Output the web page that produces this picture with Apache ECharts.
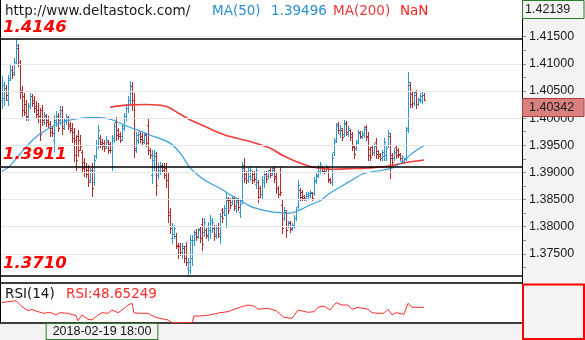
<!DOCTYPE html>
<html>
<head>
<meta charset="utf-8">
<script src="https://cdn.jsdelivr.net/npm/echarts@6/dist/echarts.min.js"></script>
<style>
  html, body { margin: 0; padding: 0; background: #fff; }
  #chart { width: 585px; height: 340px; }
</style>
</head>
<body>
<div id="chart"></div>
<script>
// ---- price scale ----
const PRICE_MAX = 1.42139;
const PRICE_MIN = 1.36964;
const priceLabels = [1.375, 1.38, 1.385, 1.39, 1.395, 1.40, 1.405, 1.41, 1.415];
const priceTicks = [1.3725, 1.375, 1.3775, 1.38, 1.3825, 1.385, 1.3875, 1.39, 1.3925,
  1.395, 1.3975, 1.40, 1.4025, 1.405, 1.4075, 1.41, 1.4125, 1.415];

// ---- support / resistance levels ----
const levels = [1.4146, 1.3911, 1.3710];

// ---- time label on the bottom scale ----
const timeLabel = { bar: 50, text: '2018-02-19 18:00' };

// ---- OHLC bars: [open, high, low, close] ----
const bars = [
  [1.4034,1.4078,1.4019,1.4061],[1.4037,1.4067,1.4024,1.4056],[1.4056,1.4061,1.4034,1.4043],[1.4034,1.4080,1.4024,1.4070],
  [1.4074,1.4098,1.4070,1.4089],[1.4089,1.4096,1.4074,1.4081],[1.4085,1.4111,1.4080,1.4103],[1.4103,1.4146,1.4100,1.4135],
  [1.4129,1.4137,1.4096,1.4103],[1.4103,1.4107,1.4037,1.4048],[1.4052,1.4059,1.4004,1.4015],[1.4041,1.4046,1.4006,1.4011],
  [1.4026,1.4034,1.3997,1.4004],[1.4002,1.4028,1.3997,1.4022],[1.4022,1.4046,1.4019,1.4041],[1.4041,1.4045,1.4022,1.4028],
  [1.4034,1.4041,1.4011,1.4019],[1.4022,1.4032,1.4000,1.4008],[1.4015,1.4028,1.3993,1.4000],[1.4004,1.4019,1.3960,1.3971],
  [1.4015,1.4024,1.3987,1.3997],[1.3993,1.4011,1.3989,1.4006],[1.4004,1.4008,1.3986,1.3993],[1.3997,1.4004,1.3984,1.3989],
  [1.3989,1.3995,1.3967,1.3975],[1.3982,1.3986,1.3967,1.3973],[1.3960,1.4006,1.3940,1.3997],[1.3993,1.4013,1.3986,1.4004],
  [1.4004,1.4010,1.3976,1.3982],[1.3997,1.4022,1.3989,1.4015],[1.4015,1.4022,1.3971,1.3982],[1.3986,1.4000,1.3980,1.3997],
  [1.3997,1.4008,1.3989,1.4002],[1.4000,1.4004,1.3980,1.3986],[1.3989,1.3993,1.3975,1.3978],[1.3982,1.3991,1.3956,1.3964],
  [1.3975,1.3982,1.3921,1.3932],[1.3960,1.3969,1.3905,1.3923],[1.3967,1.3978,1.3930,1.3941],[1.3960,1.3969,1.3941,1.3949],
  [1.3938,1.3941,1.3901,1.3908],[1.3919,1.3927,1.3894,1.3901],[1.3912,1.3918,1.3892,1.3897],[1.3905,1.3914,1.3875,1.3883],
  [1.3886,1.3908,1.3883,1.3901],[1.3905,1.3918,1.3857,1.3871],[1.3883,1.3932,1.3877,1.3923],[1.3930,1.3960,1.3927,1.3951],
  [1.3951,1.3987,1.3945,1.3978],[1.3964,1.3969,1.3947,1.3952],[1.3956,1.3962,1.3943,1.3949],[1.3954,1.3960,1.3940,1.3945],
  [1.3949,1.3967,1.3945,1.3960],[1.3956,1.3960,1.3936,1.3941],[1.3952,1.3956,1.3938,1.3941],[1.3941,1.3969,1.3905,1.3960],
  [1.3964,1.3991,1.3956,1.3986],[1.3993,1.4002,1.3960,1.3969],[1.3978,1.3982,1.3962,1.3967],[1.3971,1.3975,1.3956,1.3960],
  [1.3967,1.3987,1.3960,1.3982],[1.3986,1.4010,1.3978,1.4004],[1.4004,1.4024,1.3997,1.4019],[1.4019,1.4041,1.4011,1.4034],
  [1.4034,1.4069,1.4024,1.4059],[1.4059,1.4067,1.4015,1.4034],[1.4034,1.4046,1.3929,1.3941],[1.3945,1.3975,1.3938,1.3969],
  [1.3960,1.3975,1.3954,1.3971],[1.3971,1.3976,1.3956,1.3962],[1.3967,1.3973,1.3951,1.3956],[1.3960,1.3975,1.3954,1.3971],
  [1.3969,1.3973,1.3949,1.3954],[1.3987,1.4000,1.3934,1.3941],[1.3941,1.3945,1.3927,1.3932],[1.3895,1.3941,1.3881,1.3932],
  [1.3923,1.3941,1.3905,1.3936],[1.3930,1.3938,1.3859,1.3877],[1.3895,1.3918,1.3890,1.3912],[1.3905,1.3919,1.3897,1.3914],
  [1.3912,1.3918,1.3901,1.3905],[1.3912,1.3918,1.3890,1.3895],[1.3908,1.3918,1.3873,1.3886],[1.3886,1.3899,1.3809,1.3822],
  [1.3827,1.3835,1.3789,1.3798],[1.3779,1.3807,1.3770,1.3801],[1.3787,1.3803,1.3779,1.3798],[1.3783,1.3789,1.3761,1.3766],
  [1.3765,1.3770,1.3743,1.3750],[1.3765,1.3770,1.3748,1.3754],[1.3750,1.3770,1.3743,1.3765],[1.3761,1.3765,1.3735,1.3743],
  [1.3765,1.3772,1.3730,1.3735],[1.3724,1.3743,1.3710,1.3735],[1.3720,1.3785,1.3715,1.3776],[1.3743,1.3785,1.3730,1.3776],
  [1.3776,1.3794,1.3766,1.3787],[1.3790,1.3796,1.3776,1.3781],[1.3783,1.3798,1.3779,1.3794],[1.3796,1.3801,1.3772,1.3779],
  [1.3805,1.3816,1.3757,1.3768],[1.3790,1.3816,1.3783,1.3809],[1.3794,1.3798,1.3779,1.3785],[1.3783,1.3809,1.3776,1.3801],
  [1.3794,1.3822,1.3779,1.3813],[1.3801,1.3816,1.3790,1.3809],[1.3798,1.3803,1.3776,1.3783],[1.3787,1.3803,1.3779,1.3798],
  [1.3801,1.3807,1.3781,1.3787],[1.3783,1.3825,1.3770,1.3820],[1.3831,1.3835,1.3809,1.3816],[1.3827,1.3840,1.3822,1.3835],
  [1.3822,1.3862,1.3800,1.3853],[1.3849,1.3855,1.3825,1.3831],[1.3849,1.3853,1.3835,1.3840],[1.3846,1.3857,1.3842,1.3853],
  [1.3853,1.3857,1.3831,1.3838],[1.3835,1.3849,1.3827,1.3846],[1.3849,1.3853,1.3831,1.3836],[1.3827,1.3849,1.3818,1.3842],
  [1.3849,1.3919,1.3844,1.3908],[1.3914,1.3927,1.3883,1.3890],[1.3897,1.3903,1.3881,1.3886],[1.3886,1.3908,1.3883,1.3901],
  [1.3894,1.3912,1.3886,1.3905],[1.3901,1.3903,1.3881,1.3886],[1.3897,1.3903,1.3883,1.3888],[1.3879,1.3910,1.3871,1.3905],
  [1.3883,1.3886,1.3846,1.3855],[1.3871,1.3875,1.3855,1.3860],[1.3860,1.3894,1.3853,1.3886],[1.3883,1.3903,1.3873,1.3897],
  [1.3897,1.3903,1.3883,1.3888],[1.3894,1.3905,1.3890,1.3901],[1.3905,1.3908,1.3892,1.3895],[1.3899,1.3908,1.3895,1.3905],
  [1.3908,1.3912,1.3883,1.3890],[1.3894,1.3899,1.3862,1.3871],[1.3871,1.3875,1.3855,1.3860],[1.3901,1.3910,1.3859,1.3864],
  [1.3840,1.3849,1.3789,1.3798],[1.3816,1.3836,1.3813,1.3831],[1.3827,1.3831,1.3781,1.3794],[1.3801,1.3811,1.3800,1.3809],
  [1.3807,1.3811,1.3790,1.3796],[1.3798,1.3807,1.3794,1.3803],[1.3801,1.3822,1.3798,1.3816],[1.3816,1.3836,1.3813,1.3831],
  [1.3838,1.3886,1.3835,1.3877],[1.3868,1.3871,1.3849,1.3855],[1.3864,1.3868,1.3849,1.3853],[1.3857,1.3859,1.3849,1.3851],
  [1.3853,1.3864,1.3849,1.3860],[1.3857,1.3864,1.3853,1.3862],[1.3859,1.3868,1.3855,1.3864],[1.3862,1.3864,1.3849,1.3853],
  [1.3862,1.3892,1.3859,1.3886],[1.3884,1.3899,1.3881,1.3894],[1.3895,1.3914,1.3892,1.3908],[1.3903,1.3919,1.3899,1.3916],
  [1.3910,1.3912,1.3901,1.3903],[1.3908,1.3910,1.3899,1.3901],[1.3903,1.3914,1.3901,1.3910],[1.3908,1.3910,1.3883,1.3886],
  [1.3888,1.3890,1.3881,1.3883],[1.3883,1.3936,1.3877,1.3927],[1.3938,1.3964,1.3932,1.3956],[1.3960,1.3991,1.3956,1.3986],
  [1.3989,1.3993,1.3973,1.3978],[1.3971,1.3987,1.3965,1.3982],[1.3978,1.3982,1.3960,1.3965],[1.3971,1.3997,1.3967,1.3989],
  [1.3991,1.3995,1.3969,1.3975],[1.3971,1.3986,1.3967,1.3982],[1.3978,1.3980,1.3960,1.3965],[1.3971,1.3975,1.3941,1.3947],
  [1.3949,1.3951,1.3927,1.3934],[1.3945,1.3960,1.3941,1.3954],[1.3958,1.3978,1.3954,1.3973],[1.3975,1.3976,1.3964,1.3967],
  [1.3965,1.3976,1.3964,1.3973],[1.3969,1.3986,1.3965,1.3980],[1.3984,1.3987,1.3960,1.3965],[1.3967,1.3975,1.3923,1.3932],
  [1.3943,1.3947,1.3923,1.3929],[1.3947,1.3951,1.3932,1.3938],[1.3938,1.3954,1.3932,1.3949],[1.3956,1.3964,1.3927,1.3934],
  [1.3940,1.3941,1.3927,1.3930],[1.3934,1.3936,1.3923,1.3927],[1.3927,1.3941,1.3923,1.3938],[1.3930,1.3964,1.3923,1.3956],
  [1.3932,1.3951,1.3923,1.3945],[1.3951,1.3978,1.3947,1.3973],[1.3967,1.3973,1.3890,1.3927],[1.3932,1.3936,1.3914,1.3919],
  [1.3927,1.3945,1.3923,1.3938],[1.3947,1.3951,1.3927,1.3932],[1.3941,1.3945,1.3929,1.3932],[1.3934,1.3936,1.3923,1.3927],
  [1.3921,1.3932,1.3918,1.3929],[1.3919,1.3927,1.3918,1.3925],[1.3927,1.3984,1.3923,1.3978],[1.3982,1.4085,1.3975,1.4067],
  [1.4061,1.4067,1.4021,1.4026],[1.4045,1.4048,1.4021,1.4028],[1.4028,1.4048,1.4024,1.4043],[1.4048,1.4052,1.4019,1.4026],
  [1.4026,1.4037,1.4024,1.4035],[1.4034,1.4046,1.4030,1.4041],[1.4034,1.4048,1.4028,1.4043],[1.4043,1.4046,1.4033,1.40342]
];

// ---- moving averages: [bar index, value] ----
const ma50 = [
  [0,1.3902],[4,1.3912],[9,1.3934],[16,1.3962],[22,1.3978],[29,1.3991],[36,1.3998],[43,1.4001],
  [49,1.4001],[55,1.3997],[62,1.3986],[69,1.3976],[74,1.3969],[84,1.3954],[89,1.3936],[94,1.3909],
  [99,1.3892],[104,1.3880],[109,1.3871],[114,1.3859],[119,1.3849],[124,1.3838],[129,1.3832],[134,1.3828],
  [139,1.3826],[144,1.3825],[149,1.3831],[154,1.3840],[159,1.3848],[164,1.3862],[169,1.3873],[174,1.3884],
  [181,1.3898],[190,1.3904],[195,1.3908],[200,1.3919],[205,1.3935],[211,1.39496]
];
const ma200 = [
  [54,1.4020],[62,1.4024],[72,1.4025],[82,1.4022],[87,1.4012],[93,1.3999],[100,1.3987],[106,1.3977],
  [114,1.3966],[124,1.3957],[134,1.3945],[140,1.3932],[147,1.3920],[154,1.3911],[159,1.3908],[165,1.3906],
  [174,1.3907],[182,1.3908],[194,1.3912],[200,1.3917],[211,1.3923]
];

// ---- RSI(14): [bar index, value] ----
const rsi = [
  [0,54.3],[3,55.5],[7,56.6],[8,55.5],[10,49.5],[13,44.7],[15,46.2],[18,43.5],[21,41.6],[24,42.8],
  [27,39.6],[29,42.3],[33,41.6],[37,38.7],[38,32.7],[40,39.6],[43,34.4],[45,33.6],[48,39.6],[50,42.3],
  [53,41.6],[55,45.5],[58,42.3],[60,45.5],[63,51.5],[65,53.5],[66,42.3],[69,41.6],[73,41.6],[76,37.5],
  [79,35.6],[83,33.6],[85,30.4],[89,30.2],[93,30.4],[95,30.2],[96,38.4],[99,38.4],[104,39.6],[109,42.3],
  [113,43.5],[116,46.4],[119,48.8],[123,51.5],[126,50.3],[128,46.4],[133,47.6],[137,44.7],[141,36.8],[145,35.6],
  [148,45.5],[149,44.7],[153,42.8],[156,43.5],[158,48.8],[161,50.3],[164,45.5],[167,54.3],[170,51.5],[173,51.5],
  [175,46.4],[178,48.8],[180,47.6],[183,46.4],[185,42.3],[188,41.6],[191,41.6],[193,46.4],[195,39.6],[197,42.3],
  [201,40.4],[203,53.5],[205,48.8],[208,48.8],[211,48.65249]
];

const UP = '#2b97d3';
const DOWN = '#b22a2a';
const AXIS_FONT = '"Liberation Sans", Arial, sans-serif';
const HEAD_FONT = '"DejaVu Sans", Verdana, sans-serif';

const lastClose = bars[bars.length - 1][3];
const lastMa50 = ma50[ma50.length - 1][1];
const lastRsi = rsi[rsi.length - 1][1];

const chart = echarts.init(document.getElementById('chart'), null, { renderer: 'canvas' });

// one OHLC bar: high-low stem with open tick on the left and close tick on the right
function renderBar(params, api) {
  const i = api.value(0);
  const o = api.value(1), h = api.value(2), l = api.value(3), c = api.value(4);
  const pH = api.coord([i, h]), pL = api.coord([i, l]);
  const pO = api.coord([i, o]), pC = api.coord([i, c]);
  const x = Math.round(pH[0]);
  const yTop = Math.round(pH[1]);
  const yBot = Math.round(pL[1]);
  const color = c >= o ? UP : DOWN;
  return {
    type: 'group',
    children: [
      { type: 'rect', shape: { x: x, y: yTop, width: 1, height: Math.max(1, yBot - yTop + 1) }, style: { fill: color } },
      { type: 'rect', shape: { x: x - 1, y: Math.round(pO[1]), width: 1, height: 1 }, style: { fill: color } },
      { type: 'rect', shape: { x: x + 1, y: Math.round(pC[1]), width: 1, height: 1 }, style: { fill: color } }
    ]
  };
}

const option = {
  animation: false,
  backgroundColor: '#ffffff',
  grid: [
    { left: 0, top: 2, width: 522, height: 281 },
    { left: 0, top: 284, width: 522, height: 39 }
  ],
  xAxis: [
    {
      type: 'value', gridIndex: 0, min: -1, max: 260,
      axisLine: { show: true, onZero: false, lineStyle: { color: '#000', width: 1.5 } },
      axisTick: { show: false }, axisLabel: { show: false }, splitLine: { show: false }
    },
    {
      type: 'value', gridIndex: 1, min: -1, max: 260,
      axisLine: { show: true, onZero: false, lineStyle: { color: '#000', width: 1.5 } },
      axisTick: { show: false }, splitLine: { show: false },
      axisLabel: {
        show: true,
        customValues: [timeLabel.bar],
        formatter: () => timeLabel.text,
        margin: 1,
        color: '#111',
        fontFamily: AXIS_FONT,
        fontSize: 12.5,
        lineHeight: 14,
        padding: [1, 6, 0, 6],
        backgroundColor: '#f3f3f3',
        borderColor: '#2d7a2d',
        borderWidth: 1
      }
    }
  ],
  yAxis: [
    {
      type: 'value', gridIndex: 0, position: 'right', min: PRICE_MIN, max: PRICE_MAX,
      axisLine: { show: true, onZero: false, lineStyle: { color: '#000', width: 1 } },
      axisTick: { show: true, inside: false, customValues: priceTicks, length: 4, lineStyle: { color: '#8a8a8a' } },
      axisLabel: {
        show: true, customValues: priceLabels, margin: 7,
        formatter: v => v.toFixed(5),
        color: '#1a1a1a', fontFamily: AXIS_FONT, fontSize: 12.5
      },
      splitLine: { show: false }
    },
    {
      type: 'value', gridIndex: 1, position: 'right', min: 30, max: 76.6,
      axisLine: { show: false, onZero: false }, axisTick: { show: false }, axisLabel: { show: false }, splitLine: { show: false }
    }
  ],
  series: [
    {
      // horizontal price grid
      type: 'line', xAxisIndex: 0, yAxisIndex: 0, data: [], z: 1, silent: true,
      markLine: {
        silent: true, symbol: 'none', animation: false, precision: 5,
        label: { show: false },
        lineStyle: { color: '#e6e6e6', width: 1, type: 'solid' },
        data: priceLabels.map(v => ({ yAxis: v }))
      }
    },
    {
      type: 'custom', name: 'OHLC', xAxisIndex: 0, yAxisIndex: 0, z: 2,
      renderItem: renderBar,
      encode: { x: 0, y: [1, 2, 3, 4] },
      data: bars.map((b, i) => [i, b[0], b[1], b[2], b[3]]),
      markLine: {
        silent: true, symbol: 'none', animation: false, precision: 4,
        lineStyle: { color: '#000', width: 1.5, type: 'solid' },
        label: {
          show: true, position: 'insideStartTop', distance: 3,
          formatter: p => p.value.toFixed(4),
          color: '#ff0000', fontFamily: HEAD_FONT, fontWeight: 'bold', fontStyle: 'italic', fontSize: 16.5
        },
        data: levels.map(v => ({ yAxis: v }))
      }
    },
    {
      type: 'line', name: 'MA(200)', xAxisIndex: 0, yAxisIndex: 0, z: 3,
      data: ma200, showSymbol: false, smooth: 0.3,
      lineStyle: { color: '#f23b3b', width: 1.6 }
    },
    {
      type: 'line', name: 'MA(50)', xAxisIndex: 0, yAxisIndex: 0, z: 3,
      data: ma50, showSymbol: false, smooth: 0.3,
      lineStyle: { color: '#3a9fdb', width: 1.2 }
    },
    {
      type: 'line', name: 'RSI(14)', xAxisIndex: 1, yAxisIndex: 1, z: 3,
      data: rsi, showSymbol: false,
      lineStyle: { color: '#ff3030', width: 1 }
    }
  ]
};

chart.setOption(option);

// side panel, frames and value boxes
const yMaxPx = chart.convertToPixel({ yAxisIndex: 0 }, PRICE_MAX);
const yLastPx = chart.convertToPixel({ yAxisIndex: 0 }, lastClose);

chart.setOption({
  graphic: [
    { type: 'rect', z: -1, silent: true, shape: { x: 523, y: 0, width: 62, height: 340 }, style: { fill: '#f3f3f3' } },
    { type: 'rect', z: -1, silent: true, shape: { x: 0, y: 324, width: 523, height: 16 }, style: { fill: '#f3f3f3' } },
    { type: 'line', z: 5, silent: true, shape: { x1: 522.5, y1: 0, x2: 522.5, y2: 340 }, style: { stroke: '#000', lineWidth: 1 } },
    { type: 'line', z: 5, silent: true, shape: { x1: 0.5, y1: 0, x2: 0.5, y2: 323 }, style: { stroke: '#000', lineWidth: 1 } },
    {
      type: 'rect', z: 10, silent: true,
      shape: { x: 523, y: 284.5, width: 61, height: 54.5 },
      style: { fill: 'none', stroke: '#ff0000', lineWidth: 2 }
    },
    {
      type: 'rect', z: 10, silent: true,
      shape: { x: 522.5, y: Math.round(yMaxPx) - 1.5, width: 61.5, height: 18 },
      style: { fill: '#f3f3f3', stroke: '#2d7a2d', lineWidth: 1 }
    },
    {
      type: 'text', z: 11, silent: true, x: 525, y: Math.round(yMaxPx) + 7.5,
      style: { text: PRICE_MAX.toFixed(5), fill: '#1a1a1a', font: '12.5px ' + AXIS_FONT, verticalAlign: 'middle' }
    },
    {
      type: 'rect', z: 10, silent: true,
      shape: { x: 522.5, y: Math.round(yLastPx) - 1.5, width: 61.5, height: 18 },
      style: { fill: '#d9817e', stroke: '#b23b3b', lineWidth: 1 }
    },
    {
      type: 'text', z: 11, silent: true, x: 529, y: Math.round(yLastPx) + 7.5,
      style: { text: lastClose.toFixed(5), fill: '#1a1a1a', font: '12.5px ' + AXIS_FONT, verticalAlign: 'middle' }
    },
    // header
    { type: 'text', z: 12, silent: true, x: 5, y: 11, style: { text: 'http://www.deltastock.com/', fill: '#1a1a1a', font: '13.5px ' + HEAD_FONT, verticalAlign: 'middle' } },
    { type: 'text', z: 12, silent: true, x: 212, y: 11, style: { text: 'MA(50)', fill: '#2a8fd0', font: '13.5px ' + HEAD_FONT, verticalAlign: 'middle' } },
    { type: 'text', z: 12, silent: true, x: 271, y: 11, style: { text: lastMa50.toFixed(5), fill: '#2a8fd0', font: '13.5px ' + HEAD_FONT, verticalAlign: 'middle' } },
    { type: 'text', z: 12, silent: true, x: 333, y: 11, style: { text: 'MA(200)', fill: '#e8383a', font: '13.5px ' + HEAD_FONT, verticalAlign: 'middle' } },
    { type: 'text', z: 12, silent: true, x: 400, y: 11, style: { text: 'NaN', fill: '#ff2020', font: '13.5px ' + HEAD_FONT, verticalAlign: 'middle' } },
    // RSI header
    { type: 'text', z: 12, silent: true, x: 5, y: 294, style: { text: 'RSI(14)', fill: '#111', font: '13.5px ' + HEAD_FONT, verticalAlign: 'middle' } },
    { type: 'text', z: 12, silent: true, x: 66, y: 294, style: { text: 'RSI:' + lastRsi.toFixed(5), fill: '#ff2a2a', font: '13.5px ' + HEAD_FONT, verticalAlign: 'middle' } }
  ]
});
</script>
</body>
</html>
